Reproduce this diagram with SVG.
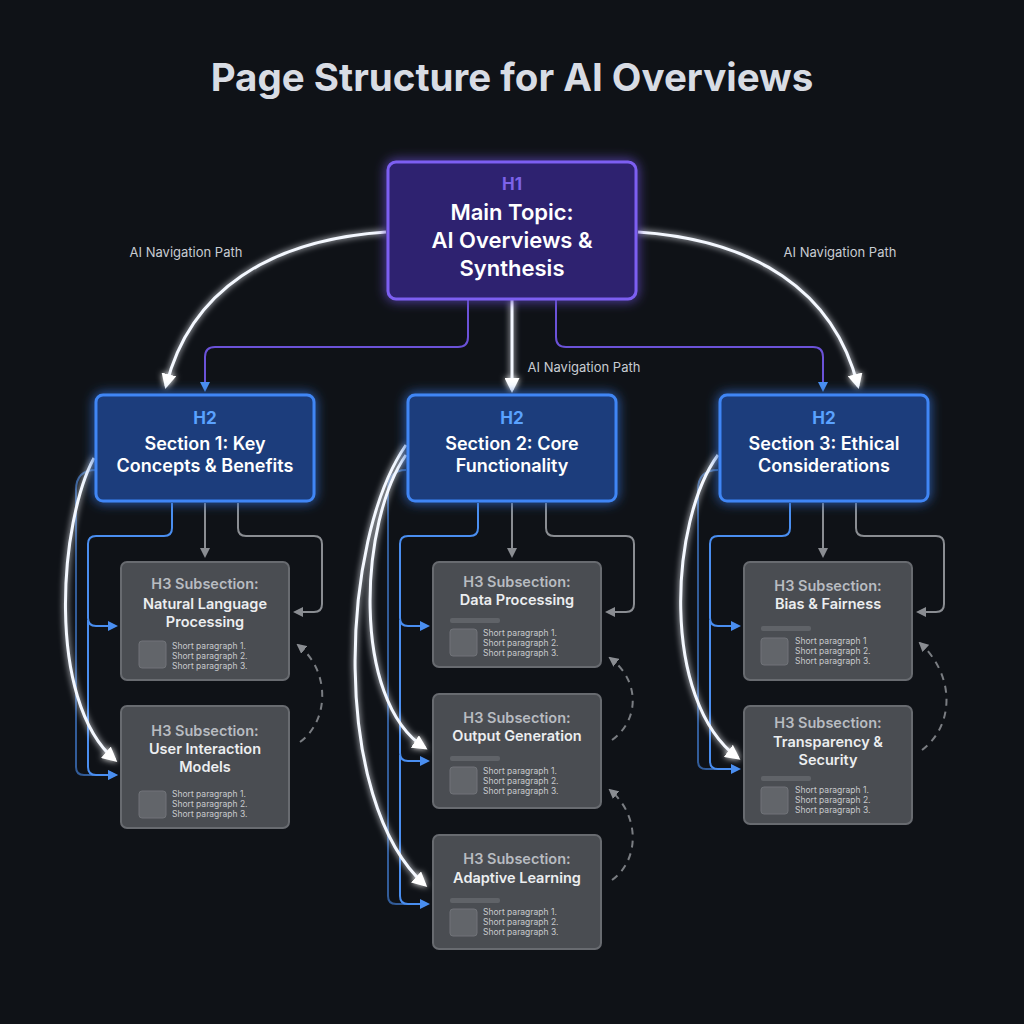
<svg xmlns="http://www.w3.org/2000/svg" width="1024" height="1024" viewBox="0 0 1024 1024">
<defs>
<filter id="glow" x="-30%" y="-30%" width="160%" height="160%"><feGaussianBlur stdDeviation="6" result="b"/><feMerge><feMergeNode in="b"/><feMergeNode in="SourceGraphic"/></feMerge></filter>
<filter id="lglow" filterUnits="userSpaceOnUse" x="0" y="0" width="1024" height="1024"><feGaussianBlur stdDeviation="3" result="b"/><feMerge><feMergeNode in="b"/><feMergeNode in="SourceGraphic"/></feMerge></filter>
<marker id="aw" viewBox="0 0 10 10" refX="8" refY="5" markerWidth="5" markerHeight="5" orient="auto"><path d="M0,0L10,5L0,10z" fill="#ffffff"/></marker>
<marker id="ab" viewBox="0 0 10 10" refX="8" refY="5" markerWidth="5" markerHeight="5" orient="auto"><path d="M0,0L10,5L0,10z" fill="#4a8ef0"/></marker>
<marker id="ag" viewBox="0 0 10 10" refX="8" refY="5" markerWidth="5" markerHeight="5" orient="auto"><path d="M0,0L10,5L0,10z" fill="#8a8d92"/></marker>
<marker id="ap" viewBox="0 0 10 10" refX="8" refY="5" markerWidth="5" markerHeight="5" orient="auto"><path d="M0,0L10,5L0,10z" fill="#4a8ef0"/></marker>
</defs>
<style>
text{font-family:Inter,"Liberation Sans",sans-serif;text-anchor:middle}
.title{font-size:38.5px;font-weight:700;fill:#d8dce4}
.h1box{fill:#2d2470;stroke:#7d5ff2;stroke-width:3}
.h2box{fill:#1b3c7c;stroke:#3f86f5;stroke-width:3}
.h3box{fill:#4a4d52;stroke:#686b70;stroke-width:2}
.lab{font-size:13px;fill:#c8ccd2}
.tag1{font-size:17px;font-weight:700;fill:#7d63ea}
.tag2{font-size:17px;font-weight:700;fill:#5aa2ff}
.big{font-size:22px;font-weight:600;fill:#ffffff}
.mid{font-size:18px;font-weight:600;fill:#ffffff}
.h3t{font-size:14.5px;font-weight:600;fill:#b8bcc1}
.h3n{font-size:14.5px;font-weight:600;fill:#eceef0}
.p{font-size:8.5px;fill:#c8cacd;text-anchor:start}
.sq{fill:#62656a;stroke:#707378}
.bar{fill:#606368}
.purple{fill:none;stroke:#6b52d8;stroke-width:2}
.white{fill:none;stroke:#f4f8ff;stroke-width:3;filter:url(#lglow)}
.blue{fill:none;stroke:#4a8ef0;stroke-width:2}
.gray{fill:none;stroke:#8a8d92;stroke-width:2}
.dash{fill:none;stroke:#7a7d82;stroke-width:2;stroke-dasharray:7 6}
</style>
<rect width="1024" height="1024" fill="#0f1217"/>
<text class="title" x="512" y="91">Page Structure for AI Overviews</text>

<g id="connectors">
<path class="purple" d="M468,300V337Q468,347 458,347H215Q205,347 205,357V390" marker-end="url(#ap)"/>
<path class="purple" d="M556,300V337Q556,347 566,347H813Q823,347 823,357V390" marker-end="url(#ap)"/>
<path class="white" d="M512,300V390" marker-end="url(#aw)"/>
<path class="white" d="M386,232C270,240 190,290 166,386" marker-end="url(#aw)"/>
<path class="white" d="M638,232C754,240 834,290 858,386" marker-end="url(#aw)"/>
<text class="lab" x="186" y="257">AI Navigation Path</text>
<text class="lab" x="840" y="257">AI Navigation Path</text>
<text class="lab" x="584" y="372">AI Navigation Path</text>

<path class="gray" d="M205,503V556" marker-end="url(#ag)"/>
<path class="gray" d="M238,503V528Q238,536 246,536H314Q322,536 322,544V604Q322,612 314,612H295" marker-end="url(#ag)"/>
<path class="blue" d="M172,503V528Q172,536 164,536H96Q88,536 88,544V618Q88,626 96,626H116" marker-end="url(#ab)"/>
<path class="blue" d="M88,620V767Q88,775 96,775H116" marker-end="url(#ab)"/>
<path class="blue" d="M96,470Q76,470 76,490V767Q76,775 84,775H116" marker-end="url(#ab)" opacity="0.6"/>
<path class="white" d="M94,458C60,520 45,700 115,760" marker-end="url(#aw)"/>
<path class="dash" d="M300,742C330,720 330,670 298,645" marker-end="url(#ag)"/>

<path class="gray" d="M512,503V556" marker-end="url(#ag)"/>
<path class="gray" d="M546,503V528Q546,536 554,536H626Q634,536 634,544V604Q634,612 626,612H607" marker-end="url(#ag)"/>
<path class="blue" d="M478,503V528Q478,536 470,536H408Q400,536 400,544V618Q400,626 408,626H428" marker-end="url(#ab)"/>
<path class="blue" d="M400,620V753Q400,761 408,761H428" marker-end="url(#ab)"/>
<path class="blue" d="M400,755V896Q400,904 408,904H428" marker-end="url(#ab)"/>
<path class="blue" d="M406,470Q388,470 388,490V896Q388,904 396,904H428" opacity="0.6"/>
<path class="white" d="M406,455C360,520 350,700 425,748" marker-end="url(#aw)"/>
<path class="white" d="M406,445C340,540 330,800 425,885" marker-end="url(#aw)"/>
<path class="dash" d="M612,740C640,720 640,680 610,658" marker-end="url(#ag)"/>
<path class="dash" d="M612,880C640,860 640,815 610,790" marker-end="url(#ag)"/>

<path class="gray" d="M823,503V556" marker-end="url(#ag)"/>
<path class="gray" d="M856,503V528Q856,536 864,536H936Q944,536 944,544V604Q944,612 936,612H918" marker-end="url(#ag)"/>
<path class="blue" d="M790,503V528Q790,536 782,536H718Q710,536 710,544V618Q710,626 718,626H739" marker-end="url(#ab)"/>
<path class="blue" d="M710,620V761Q710,769 718,769H739" marker-end="url(#ab)"/>
<path class="blue" d="M718,470Q698,470 698,490V761Q698,769 706,769H739" opacity="0.6"/>
<path class="white" d="M718,455C670,520 660,700 738,758" marker-end="url(#aw)"/>
<path class="dash" d="M922,750C955,725 955,675 920,643" marker-end="url(#ag)"/>
</g>

<g id="h1" filter="url(#glow)">
<rect class="h1box" x="388" y="162" width="248" height="137" rx="8"/>
</g>
<g id="h1-text">
<text class="tag1" x="512" y="190">H1</text>
<text class="big" x="512" y="220">Main Topic:</text>
<text class="big" x="512" y="248">AI Overviews &amp;</text>
<text class="big" x="512" y="276">Synthesis</text>
</g>

<g id="h2-1"><rect class="h2box" x="96" y="395" width="218" height="106" rx="7" filter="url(#glow)"/>
<text class="tag2" x="205" y="424">H2</text><text class="mid" x="205" y="450">Section 1: Key</text><text class="mid" x="205" y="472">Concepts &amp; Benefits</text></g>
<g id="h2-2"><rect class="h2box" x="408" y="395" width="208" height="106" rx="7" filter="url(#glow)"/>
<text class="tag2" x="512" y="424">H2</text><text class="mid" x="512" y="450">Section 2: Core</text><text class="mid" x="512" y="472">Functionality</text></g>
<g id="h2-3"><rect class="h2box" x="720" y="395" width="208" height="106" rx="7" filter="url(#glow)"/>
<text class="tag2" x="824" y="424">H2</text><text class="mid" x="824" y="450">Section 3: Ethical</text><text class="mid" x="824" y="472">Considerations</text></g>

<g id="h3-nlp"><rect class="h3box" x="121" y="562" width="168" height="118" rx="6"/>
<text class="h3t" x="205" y="589">H3 Subsection:</text><text class="h3n" x="205" y="609">Natural Language</text><text class="h3n" x="205" y="627">Processing</text>
<rect class="sq" x="139" y="641" width="27" height="27" rx="3"/>
<text class="p" x="172" y="649">Short paragraph 1.</text><text class="p" x="172" y="659">Short paragraph 2.</text><text class="p" x="172" y="669">Short paragraph 3.</text></g>

<g id="h3-uim"><rect class="h3box" x="121" y="706" width="168" height="122" rx="6"/>
<text class="h3t" x="205" y="736">H3 Subsection:</text><text class="h3n" x="205" y="754">User Interaction</text><text class="h3n" x="205" y="772">Models</text>
<rect class="sq" x="139" y="791" width="27" height="27" rx="3"/>
<text class="p" x="172" y="797">Short paragraph 1.</text><text class="p" x="172" y="807">Short paragraph 2.</text><text class="p" x="172" y="817">Short paragraph 3.</text></g>

<g id="h3-dp"><rect class="h3box" x="433" y="562" width="168" height="105" rx="6"/>
<text class="h3t" x="517" y="587">H3 Subsection:</text><text class="h3n" x="517" y="605">Data Processing</text>
<rect class="bar" x="450" y="618" width="50" height="5" rx="2"/>
<rect class="sq" x="450" y="629" width="27" height="27" rx="3"/>
<text class="p" x="483" y="636">Short paragraph 1.</text><text class="p" x="483" y="646">Short paragraph 2.</text><text class="p" x="483" y="656">Short paragraph 3.</text></g>

<g id="h3-og"><rect class="h3box" x="433" y="694" width="168" height="114" rx="6"/>
<text class="h3t" x="517" y="723">H3 Subsection:</text><text class="h3n" x="517" y="741">Output Generation</text>
<rect class="bar" x="450" y="756" width="50" height="5" rx="2"/>
<rect class="sq" x="450" y="767" width="27" height="27" rx="3"/>
<text class="p" x="483" y="774">Short paragraph 1.</text><text class="p" x="483" y="784">Short paragraph 2.</text><text class="p" x="483" y="794">Short paragraph 3.</text></g>

<g id="h3-al"><rect class="h3box" x="433" y="835" width="168" height="114" rx="6"/>
<text class="h3t" x="517" y="864">H3 Subsection:</text><text class="h3n" x="517" y="883">Adaptive Learning</text>
<rect class="bar" x="450" y="898" width="50" height="5" rx="2"/>
<rect class="sq" x="450" y="909" width="27" height="27" rx="3"/>
<text class="p" x="483" y="915">Short paragraph 1.</text><text class="p" x="483" y="925">Short paragraph 2.</text><text class="p" x="483" y="935">Short paragraph 3.</text></g>

<g id="h3-bf"><rect class="h3box" x="744" y="562" width="168" height="118" rx="6"/>
<text class="h3t" x="828" y="591">H3 Subsection:</text><text class="h3n" x="828" y="609">Bias &amp; Fairness</text>
<rect class="bar" x="761" y="626" width="50" height="5" rx="2"/>
<rect class="sq" x="761" y="638" width="27" height="27" rx="3"/>
<text class="p" x="795" y="644">Short paragraph 1</text><text class="p" x="795" y="654">Short paragraph 2.</text><text class="p" x="795" y="664">Short paragraph 3.</text></g>

<g id="h3-ts"><rect class="h3box" x="744" y="706" width="168" height="118" rx="6"/>
<text class="h3t" x="828" y="728">H3 Subsection:</text><text class="h3n" x="828" y="747">Transparency &amp;</text><text class="h3n" x="828" y="765">Security</text>
<rect class="bar" x="761" y="776" width="50" height="5" rx="2"/>
<rect class="sq" x="761" y="787" width="27" height="27" rx="3"/>
<text class="p" x="795" y="793">Short paragraph 1.</text><text class="p" x="795" y="803">Short paragraph 2.</text><text class="p" x="795" y="813">Short paragraph 3.</text></g>
</svg>
